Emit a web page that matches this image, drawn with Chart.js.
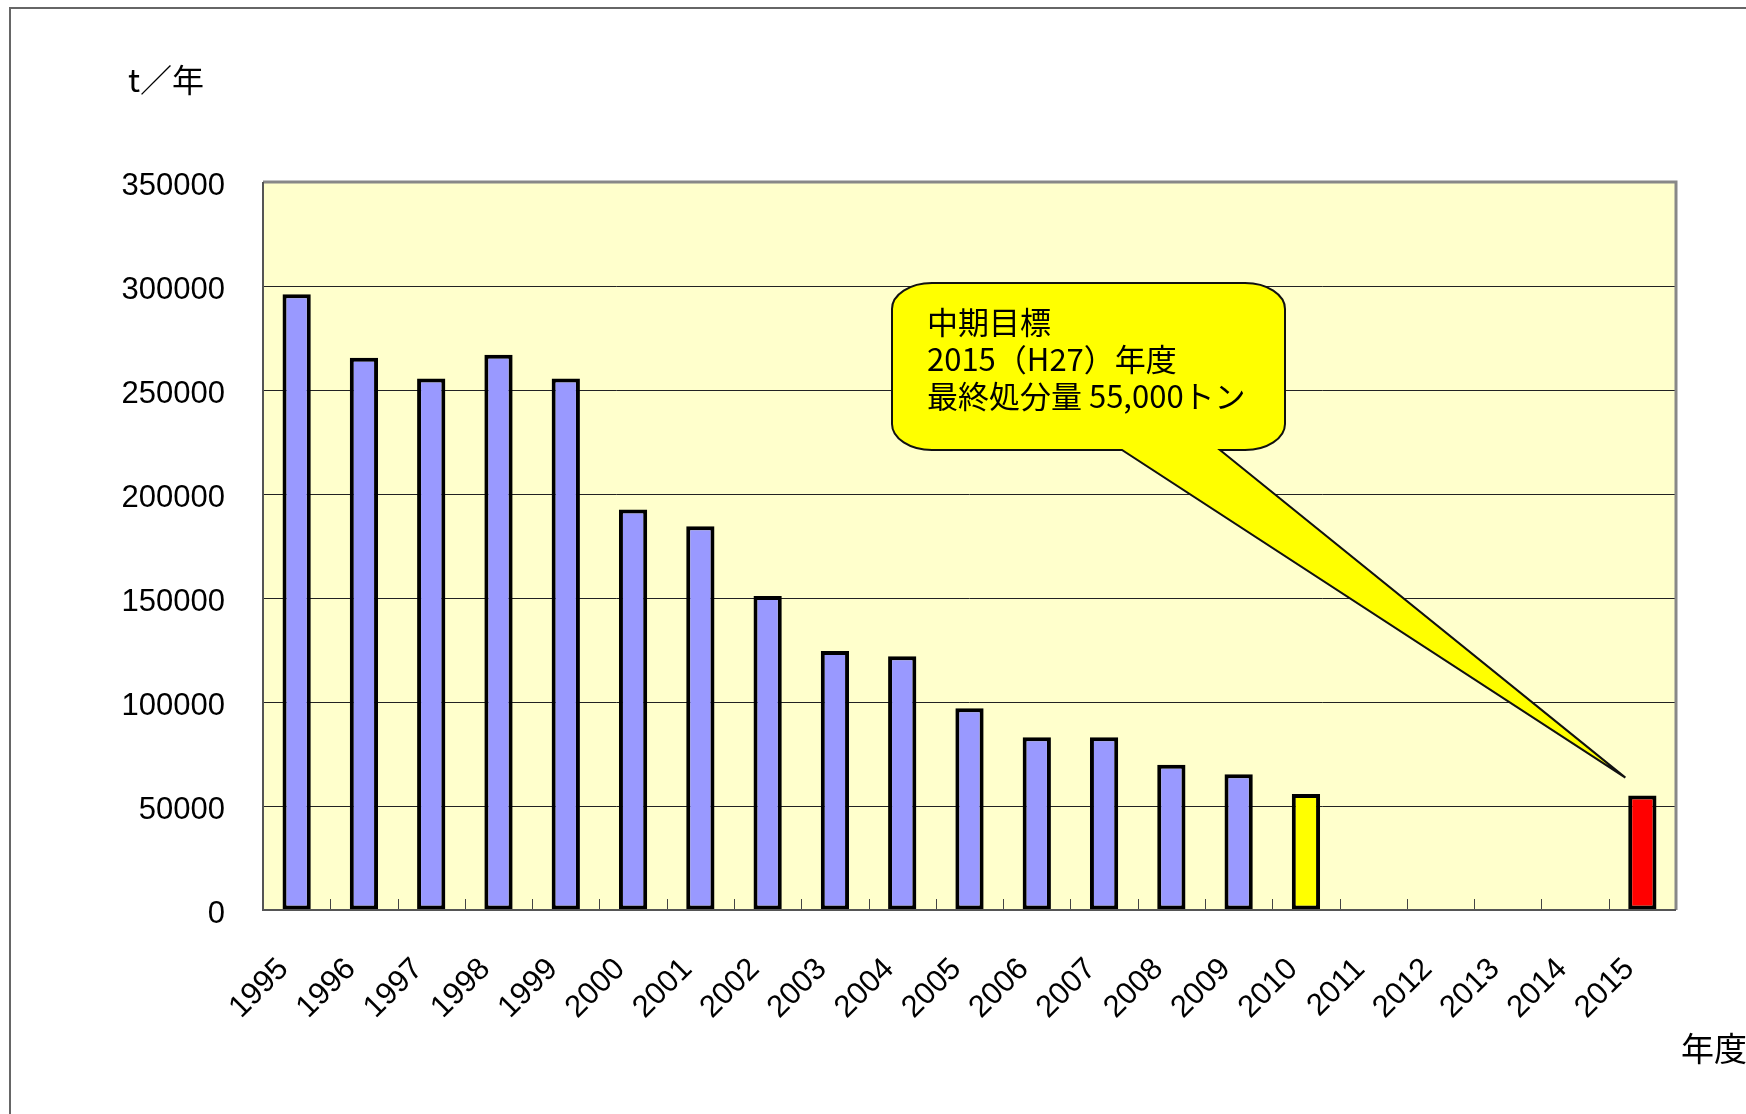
<!DOCTYPE html>
<html>
<head>
<meta charset="utf-8">
<script src="https://cdn.jsdelivr.net/npm/chart.js@4"></script>
<style>
  html, body { margin: 0; padding: 0; background: #fff; }
  #c { display: block; }
</style>
</head>
<body>
<canvas id="c" width="1746" height="1114"></canvas>
<script>
// fiscal years on the x axis (2011-2014 have no bar)
const years = ["1995", "1996", "1997", "1998", "1999", "2000", "2001", "2002", "2003", "2004",
  "2005", "2006", "2007", "2008", "2009", "2010", "2011", "2012", "2013", "2014", "2015"];
// final disposal amount, t / year
const disposal = [296000, 265500, 255500, 267000, 255500, 192500, 184500, 151000, 124500, 122000,
  97000, 83000, 83000, 69800, 65300, 55800, null, null, null, null, 55000];
const yMin = 0;
const yMax = 350000;
const yStep = 50000;
const targetYear = "2015";
const latestYear = "2010";
const calloutLines = ["中期目標", "2015（H27）年度", "最終処分量 55,000トン"];
const yUnit = "t／年";
const xUnit = "年度";

const numFont = "'Liberation Sans', Arial, sans-serif";
const jpFont = "'Noto Sans CJK JP', sans-serif";

const barFill = years.map(y => y === targetYear ? "#ff0000" : y === latestYear ? "#ffff00" : "#9999ff");

const frame = {
  id: "frame",
  beforeDraw(chart) {
    const ctx = chart.ctx, a = chart.chartArea;
    ctx.save();
    ctx.fillStyle = "#fff";
    ctx.fillRect(0, 0, chart.width, chart.height);
    // outer border (top and left)
    ctx.strokeStyle = "#666";
    ctx.lineWidth = 2;
    ctx.beginPath();
    ctx.moveTo(10, chart.height);
    ctx.lineTo(10, 8);
    ctx.lineTo(chart.width, 8);
    ctx.stroke();
    ctx.fillStyle = "#ffffcc";
    ctx.fillRect(a.left, a.top, a.right - a.left, a.bottom - a.top);
    ctx.restore();
  },
  afterDatasetsDraw(chart) {
    const ctx = chart.ctx, a = chart.chartArea;
    const xs = chart.scales.x, ys = chart.scales.y;
    ctx.save();
    // inside tick marks at category boundaries
    ctx.strokeStyle = "#444";
    ctx.lineWidth = 1;
    for (let i = 0; i < years.length - 1; i++) {
      const bx = Math.round((xs.getPixelForTick(i) + xs.getPixelForTick(i + 1)) / 2) + 0.5;
      ctx.beginPath();
      ctx.moveTo(bx, a.bottom);
      ctx.lineTo(bx, a.bottom - 11);
      ctx.stroke();
    }
    // plot area border
    ctx.lineWidth = 3;
    ctx.strokeStyle = "#888";
    ctx.beginPath();
    ctx.moveTo(a.left, a.top);
    ctx.lineTo(a.right, a.top);
    ctx.lineTo(a.right, a.bottom);
    ctx.stroke();
    ctx.lineWidth = 2;
    ctx.strokeStyle = "#555";
    ctx.beginPath();
    ctx.moveTo(a.left, a.top);
    ctx.lineTo(a.left, a.bottom);
    ctx.lineTo(a.right, a.bottom);
    ctx.stroke();

    // callout pointing at the 2015 target bar
    const ti = years.indexOf(targetYear);
    const tipX = xs.getPixelForValue(ti) - 17;
    const tipY = ys.getPixelForValue(disposal[ti]) - 18;
    const L = 892, T = 283, R = 1285, B = 450, rx = 40, ry = 26;
    ctx.beginPath();
    ctx.moveTo(L + rx, T);
    ctx.lineTo(R - rx, T);
    ctx.ellipse(R - rx, T + ry, rx, ry, 0, -Math.PI / 2, 0);
    ctx.lineTo(R, B - ry);
    ctx.ellipse(R - rx, B - ry, rx, ry, 0, 0, Math.PI / 2);
    ctx.lineTo(1220, B);
    ctx.lineTo(tipX, tipY);
    ctx.lineTo(1122, B);
    ctx.lineTo(L + rx, B);
    ctx.ellipse(L + rx, B - ry, rx, ry, 0, Math.PI / 2, Math.PI);
    ctx.lineTo(L, T + ry);
    ctx.ellipse(L + rx, T + ry, rx, ry, 0, Math.PI, Math.PI * 1.5);
    ctx.closePath();
    ctx.fillStyle = "#ffff00";
    ctx.fill();
    ctx.lineWidth = 2;
    ctx.strokeStyle = "#111";
    ctx.stroke();

    ctx.fillStyle = "#000";
    ctx.font = "31px " + jpFont;
    ctx.textAlign = "left";
    ctx.textBaseline = "middle";
    calloutLines.forEach((s, i) => ctx.fillText(s, 927, 322 + i * 37));

    // unit labels
    ctx.font = "32px " + jpFont;
    ctx.fillText(yUnit, 128, 80);
    ctx.font = "33px " + jpFont;
    ctx.fillText(xUnit, 1681, 1048);
    ctx.restore();
  }
};

new Chart(document.getElementById("c"), {
  type: "bar",
  data: {
    labels: years,
    datasets: [{
      data: disposal,
      backgroundColor: barFill,
      borderColor: "#000",
      borderWidth: 4,
      borderSkipped: false,
      barPercentage: 0.42,
      categoryPercentage: 1
    }]
  },
  options: {
    responsive: false,
    animation: false,
    devicePixelRatio: 1,
    layout: { padding: { top: 182, right: 70, left: 0, bottom: 0 } },
    plugins: {
      legend: { display: false },
      tooltip: { enabled: false }
    },
    scales: {
      x: {
        grid: { display: false },
        border: { display: false },
        ticks: {
          autoSkip: false,
          minRotation: 45,
          maxRotation: 45,
          padding: 33,
          labelOffset: -13,
          color: "#000",
          font: { family: numFont, size: 31 }
        },
        afterFit(scale) { scale.height = 204; }
      },
      y: {
        min: yMin,
        max: yMax,
        grid: { color: "#222", lineWidth: 1, drawTicks: false },
        border: { display: false },
        ticks: {
          stepSize: yStep,
          padding: 38,
          labelOffset: 4,
          color: "#000",
          font: { family: numFont, size: 31 },
          callback: v => String(v)
        },
        afterFit(scale) { scale.width = 263; }
      }
    }
  },
  plugins: [frame]
});
</script>
</body>
</html>
